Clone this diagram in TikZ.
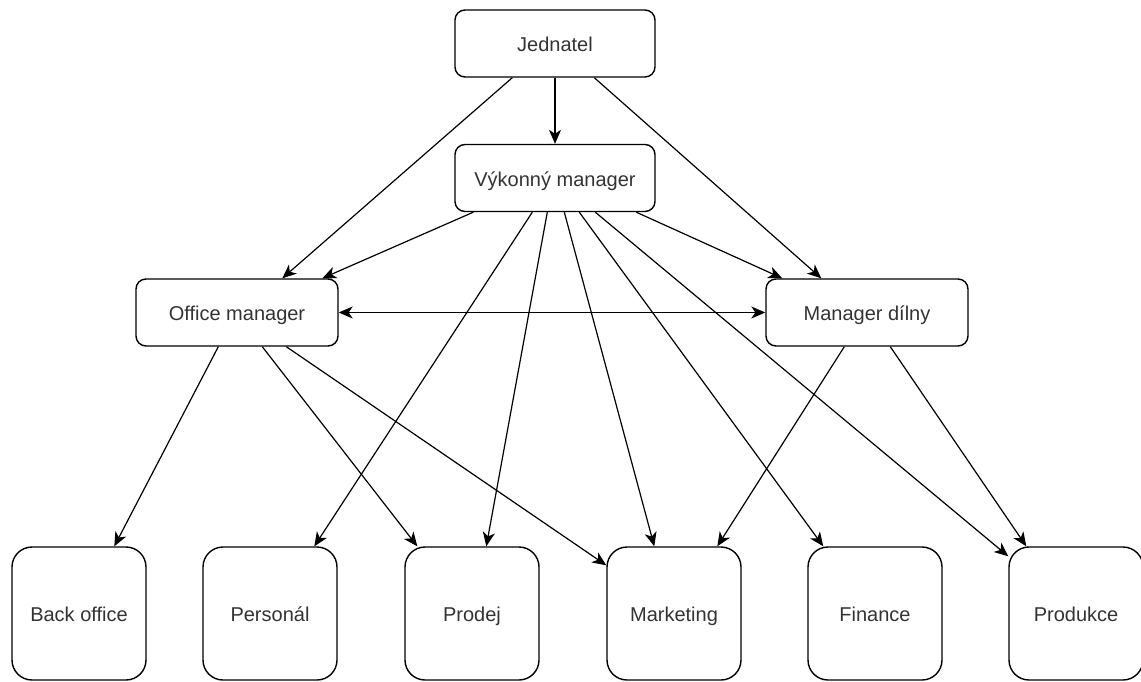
\documentclass[tikz,border=0pt]{standalone}
\usepackage{fontspec}
\setmainfont{Liberation Sans}
\usetikzlibrary{arrows.meta,calc}
\begin{document}
\begin{tikzpicture}[x=1pt,y=-1pt,
  box/.style={draw=black,line width=1.4pt,rounded corners=10pt,fill=white,
    minimum width=200pt,minimum height=67pt,inner sep=0pt,
    text height=17pt,text depth=1pt,text=black!80,
    font=\fontsize{20}{24}\selectfont},
  bigbox/.style={box,rounded corners=20pt,minimum width=134pt,minimum height=133pt},
  conn/.style={line width=1.2pt,-{Stealth[length=14pt,width=12pt,inset=4pt]}},
  dconn/.style={line width=1.2pt,{Stealth[length=14pt,width=12pt,inset=4pt]}-{Stealth[length=14pt,width=12pt,inset=4pt]}}]
\useasboundingbox (0,0) rectangle (1141,681);
\fill[white] (0,0) rectangle (1141,681);
% nodes
\node[box] (j)  at (555,43.5) {Jednatel};
\node[box] (vm) at (555,178) {Výkonný manager};
\node[box,minimum width=202pt] (om) at (237,312.5) {Office manager};
\node[box,minimum width=202pt] (md) at (867,312.5) {Manager dílny};
\node[bigbox] (bo) at (79,613.5) {Back office};
\node[bigbox] (pe) at (270,613.5) {Personál};
\node[bigbox] (pr) at (472,613.5) {Prodej};
\node[bigbox] (ma) at (674,613.5) {Marketing};
\node[bigbox] (fi) at (875,613.5) {Finance};
\node[bigbox] (pd) at (1076,613.5) {Produkce};
% connectors from Jednatel
\draw[conn] (j.south) -- (vm.north);
\draw[conn] ([xshift=58pt]j.south west) -- ([xshift=147pt]om.north west);
\draw[conn] ([xshift=140pt]j.south west) -- ([xshift=56pt]md.north west);
% from Vykonny manager
\draw[conn] ([xshift=19pt]vm.south west) -- ([xshift=187pt]om.north west);
\draw[conn] ([xshift=182pt]vm.south west) -- ([xshift=17pt]md.north west);
\draw[conn] ([xshift=78pt]vm.south west) -- ([xshift=112pt]pe.north west);
\draw[conn] ([xshift=93pt]vm.south west) -- ([xshift=82pt]pr.north west);
\draw[conn] ([xshift=110pt]vm.south west) -- ([xshift=48pt]ma.north west);
\draw[conn] ([xshift=125pt]vm.south west) -- ([xshift=16pt]fi.north west);
\draw[conn] ([xshift=141pt]vm.south west) -- ([yshift=-10pt]pd.north west);
% office manager
\draw[dconn] (om.east) -- (md.west);
\draw[conn] ([xshift=83pt]om.south west) -- ([xshift=103pt]bo.north west);
\draw[conn] ([xshift=127pt]om.south west) -- ([xshift=13pt]pr.north west);
\draw[conn] ([xshift=151pt]om.south west) -- ([yshift=-19pt]ma.north west);
% manager dilny
\draw[conn] ([xshift=79pt]md.south west) -- ([xshift=111pt]ma.north west);
\draw[conn] ([xshift=125pt]md.south west) -- ([xshift=18pt]pd.north west);
\end{tikzpicture}
\end{document}
